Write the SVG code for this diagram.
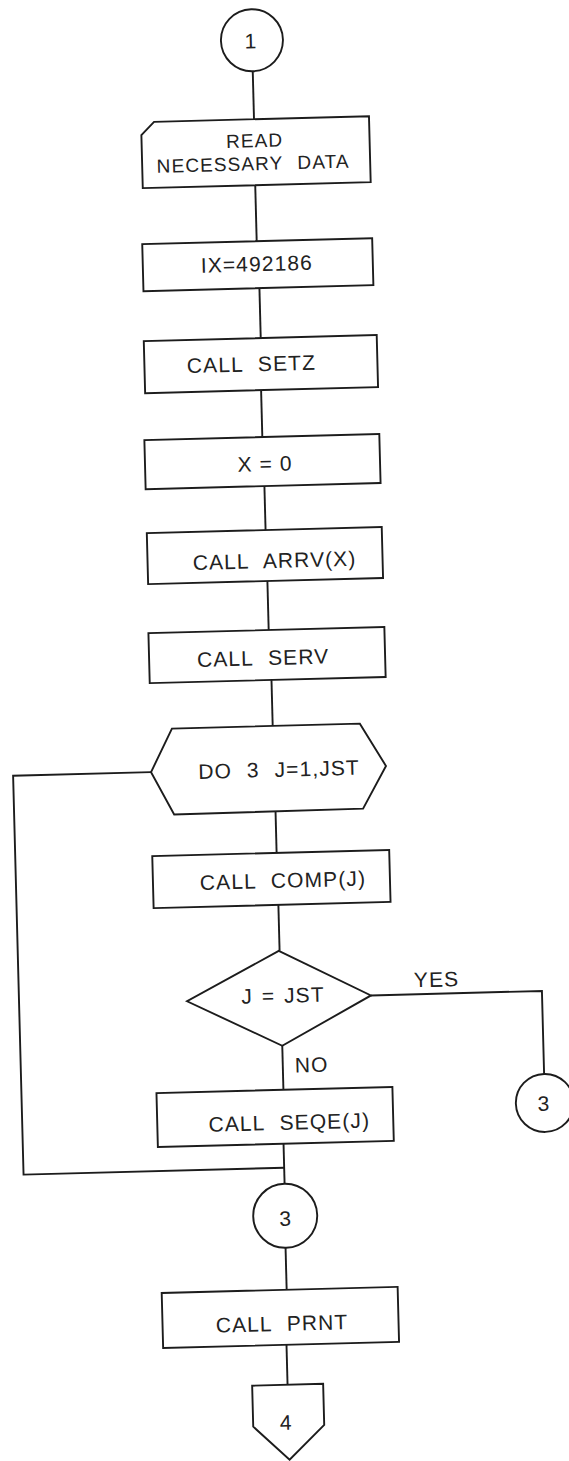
<svg xmlns="http://www.w3.org/2000/svg" width="569" height="1461" viewBox="0 0 569 1461">
<style>
.s{fill:#fff;stroke:#1c1c1c;stroke-width:1.9;stroke-linejoin:miter}
.c{fill:none;stroke:#1c1c1c;stroke-width:1.9}
.t{font-family:"Liberation Sans",Arial,sans-serif;font-size:21px;fill:#222;text-anchor:middle;letter-spacing:1.1px;word-spacing:8px}
.r{font-size:19px}
</style>
<rect width="569" height="1461" fill="#fff"/>
<g transform="rotate(-1.5 270 730)">
<g id="connectors">
<line class="c" x1="270" y1="71" x2="270" y2="119"/>
<line class="c" x1="269.5" y1="185" x2="269.5" y2="241"/>
<line class="c" x1="271" y1="288" x2="271" y2="338"/>
<line class="c" x1="270" y1="390" x2="270" y2="437"/>
<line class="c" x1="270.8" y1="486" x2="270.8" y2="530"/>
<line class="c" x1="271.3" y1="581" x2="271.3" y2="630"/>
<line class="c" x1="272.8" y1="680" x2="272.8" y2="726"/>
<line class="c" x1="273.4" y1="812" x2="273.4" y2="853"/>
<line class="c" x1="273.8" y1="905" x2="273.8" y2="951"/>
<line class="c" x1="274" y1="1046" x2="274" y2="1090"/>
<line class="c" x1="272.7" y1="1144" x2="272.7" y2="1184"/>
<line class="c" x1="272" y1="1248" x2="272" y2="1290"/>
<line class="c" x1="270.4" y1="1345" x2="270.4" y2="1385"/>
<polyline class="c" points="150,769 12,769 12,1168 272.7,1168"/>
<polyline class="c" points="364,998 535,998 535,1081"/>
<text class="t" x="430" y="991">YES</text>
<text class="t" x="303" y="1073">NO</text>
</g>
<g id="n1">
<circle class="s" cx="270" cy="40" r="31"/>
<text class="t" x="269" y="48">1</text>
</g>
<g id="read">
<path class="s" d="M170,119 H385 V185 H157 V132 Z"/>
<text class="t r" x="270" y="147">READ</text>
<text class="t r" x="268" y="170">NECESSARY DATA</text>
</g>
<g id="ix">
<rect class="s" x="155" y="241" width="230" height="47"/>
<text class="t" x="269" y="271">IX=492186</text>
</g>
<g id="setz">
<rect class="s" x="154" y="338" width="233" height="52"/>
<text class="t" x="261" y="371">CALL SETZ</text>
</g>
<g id="x0">
<rect class="s" x="152" y="437" width="235" height="49"/>
<text class="t" x="272" y="471" style="word-spacing:0">X = 0</text>
</g>
<g id="arrv">
<rect class="s" x="152" y="530" width="235" height="51"/>
<text class="t" x="279" y="568">CALL ARRV(X)</text>
</g>
<g id="serv">
<rect class="s" x="151" y="630" width="236" height="50"/>
<text class="t" x="265" y="665">CALL SERV</text>
</g>
<g id="do3">
<polygon class="s" points="150,769 172,726 360,726 385,769 361,811 172,812"/>
<text class="t" x="278" y="777">DO 3 J=1,JST</text>
</g>
<g id="comp">
<rect class="s" x="149" y="853" width="237" height="52"/>
<text class="t" x="279" y="888">CALL COMP(J)</text>
</g>
<g id="test">
<polygon class="s" points="273,951 364,998 274,1046 180,999"/>
<text class="t" x="276" y="1003" style="word-spacing:2px">J = JST</text>
</g>
<g id="seqe">
<rect class="s" x="147" y="1090" width="236" height="54"/>
<text class="t" x="279" y="1130">CALL SEQE(J)</text>
</g>
<g id="c3">
<circle class="s" cx="272.5" cy="1216" r="32"/>
<text class="t" x="273" y="1226">3</text>
</g>
<g id="c3r">
<circle class="s" cx="535" cy="1110" r="29"/>
<text class="t" x="534" y="1118">3</text>
</g>
<g id="prnt">
<rect class="s" x="147" y="1290" width="236" height="55"/>
<text class="t" x="266.5" y="1331">CALL PRNT</text>
</g>
<g id="off4">
<polygon class="s" points="235,1385 306,1385 306,1426 270.5,1460 235,1426"/>
<text class="t" x="268" y="1430">4</text>
</g>
</g>
</svg>
